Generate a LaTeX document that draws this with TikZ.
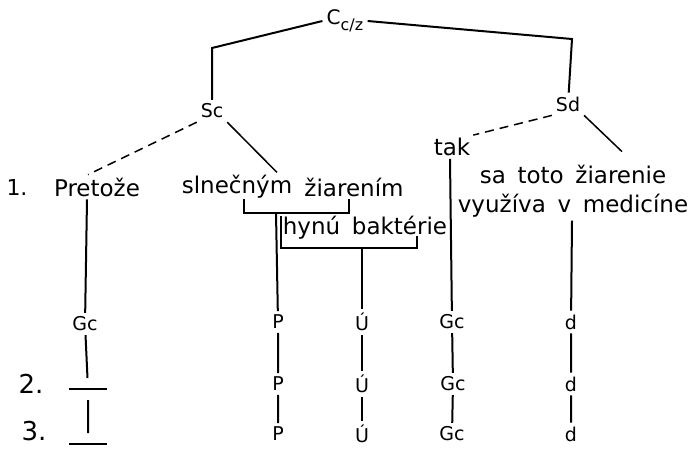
\documentclass[tikz,border=0pt]{standalone}
\usepackage{fontspec}
\setmainfont{DejaVu Sans}[WordSpace=1.6]
\usetikzlibrary{positioning}

\begin{document}
\begin{tikzpicture} [x=1pt, y=-1pt, line width=2pt,
    font=\fontsize{23}{26}\selectfont,
    word/.style = {inner sep=2pt},
    tag/.style = {font=\fontsize{19}{21}\selectfont, inner sep=3pt},
    blank/.style = {minimum width=36pt, minimum height=20pt, inner sep=0pt},
    gap/.style = {line width=1.5pt, dash pattern=on 9pt off 6pt}]
    \useasboundingbox (0,0) rectangle (692,448);

    % root and the two clauses
    \node (czz) at (345,21)
        {\fontsize{20}{22}\selectfont C\raisebox{-6pt}{\fontsize{16}{16}\selectfont c/z}};
    \node (sc) [tag] at (212,111) {Sc};
    \node (sd) [tag] at (568,104) {Sd};
    \coordinate (scup) at (212,48);
    \coordinate (sdup) at (572,39);
    \draw (czz.west) -- (scup) -- (sc);
    \draw (czz.east) -- (sdup) -- (sd);

    % first line of words
    \node (n1) [font=\fontsize{22}{24}\selectfont] at (17,187) {1.};
    \node (pret) [word] at (97,187) {Pretože};
    \node (sln) [word] at (237,187) {slnečným};
    \node (ziar) [word] at (354,187) {žiarením};
    \node (hynu) [word] at (365,228) {hynú baktérie};
    \node (tak) [word] at (452,147) {tak};
    \node (satoto) [word] at (573,174) {sa toto žiarenie};
    \node (vyuz) [word] at (573,206) {využíva v medicíne};

    \draw [gap] (sc.south west) -- ([xshift=-9pt]pret.north);
    \draw [line width=1.5pt] (sc.south east) -- ([xshift=40pt]sln.north);
    \draw [gap] (sd.south west) -- (tak.north east);
    \draw [line width=1.5pt] (sd.south east) -- ([xshift=49pt, yshift=10pt]satoto.north);

    % brackets under the subject and the predicate
    \coordinate (slnfoot) at (244,199);
    \coordinate (ziarfoot) at (349,199);
    \coordinate (subj) at (276,213);
    \draw (slnfoot) -- ++(0,14) -| (ziarfoot);
    \coordinate (hynutop) at (281,216);
    \coordinate (hynufoot) at (417,236);
    \coordinate (pred) at (362,248);
    \draw (hynutop) -- ++(0,32) -| (hynufoot);

    % rows 2 and 3
    \node (n2) [font=\fontsize{26}{28}\selectfont] at (31,384) {2.};
    \node (n3) [font=\fontsize{26}{28}\selectfont] at (34,431) {3.};

    \node (gc1) [tag] at (85,324) {Gc};
    \node (e2) [blank] at (88,389) {};
    \node (e3) [blank] at (88,444) {};
    \draw [line width=1.2pt] (e2.west) -- (e2.east);
    \draw [line width=1.2pt] (e3.west) -- (e3.east);

    \node (p1) [tag] at (278,322) {P};
    \node (p2) [tag] at (278,384) {P};
    \node (p3) [tag] at (278,434) {P};
    \node (u1) [tag] at (362,322) {Ú};
    \node (u2) [tag] at (362,384) {Ú};
    \node (u3) [tag] at (362,434) {Ú};
    \node (g1) [tag] at (452,322) {Gc};
    \node (g2) [tag] at (453,384) {Gc};
    \node (g3) [tag] at (452,434) {Gc};
    \node (d1) [tag] at (571,322) {d};
    \node (d2) [tag] at (571,384) {d};
    \node (d3) [tag] at (571,434) {d};

    \draw ([xshift=-10pt]pret.south) -- (gc1) -- (e2) -- (e3);
    \draw (subj) -- (p1) -- (p2) -- (p3);
    \draw (pred) -- (u1) -- (u2) -- (u3);
    \draw ([xshift=-2pt]tak.south) -- (g1) -- (g2) -- (g3);
    \draw ([xshift=-1pt]vyuz.south) -- (d1) -- (d2) -- (d3);
\end{tikzpicture}
\end{document}
